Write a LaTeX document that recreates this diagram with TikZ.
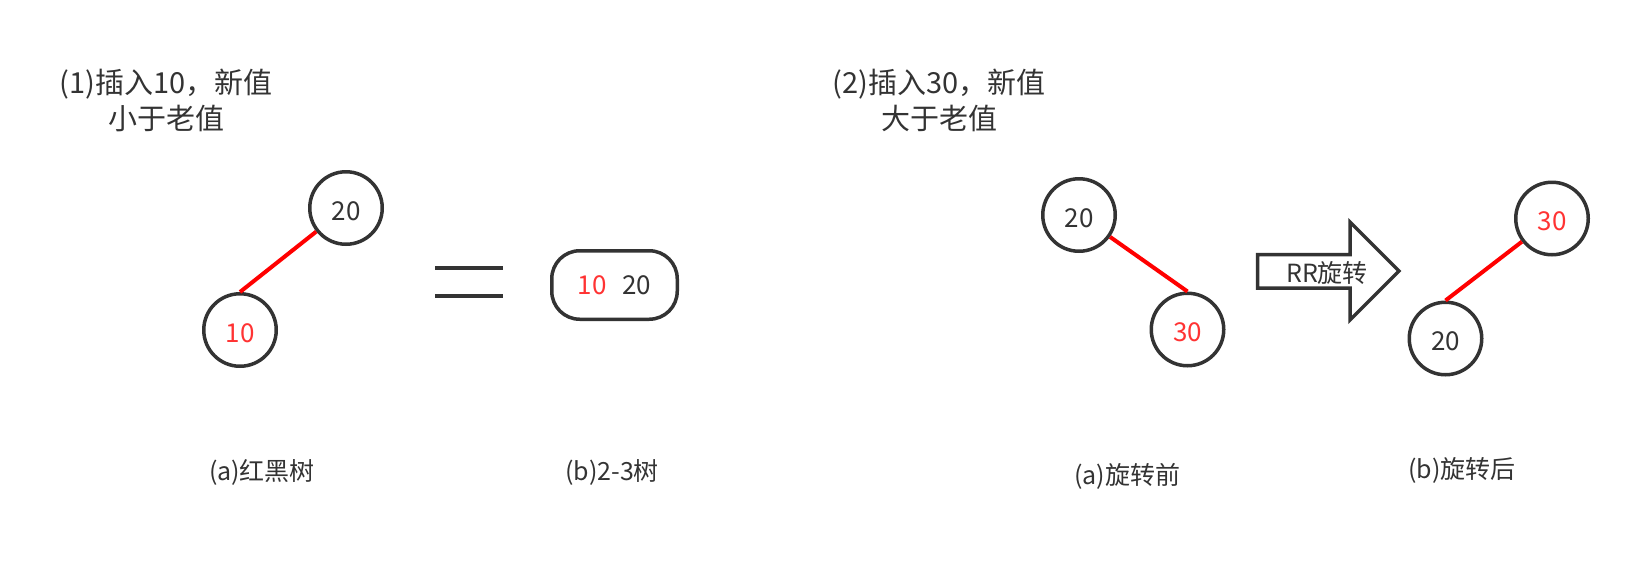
\documentclass[tikz,border=0pt]{standalone}
\usepackage{fontspec}
\setmainfont{Noto Sans CJK SC}
\definecolor{dk}{HTML}{333333}
\definecolor{rd}{HTML}{FF0000}
\definecolor{tr}{HTML}{FF3333}
\begin{document}
\begin{tikzpicture}[x=1pt,y=-1pt,
  nd/.style={circle,draw=dk,line width=3.5pt,minimum size=72.5pt,inner sep=0pt,font=\fontsize{26}{26}\selectfont,text=dk,text height=24pt,text depth=0pt},
  rnd/.style={nd,text=tr},
  edge/.style={draw=rd,line width=4pt},
  lbl/.style={font=\fontsize{25}{28}\selectfont,text=dk,inner sep=0pt},
  ttl/.style={font=\fontsize{29}{36}\selectfont,text=dk,align=center,inner sep=0pt}]
\useasboundingbox (0,0) rectangle (1638,565);
% titles
\node[ttl] (t1) at (166,100) {(1)插入10，新值\\小于老值};
\node[ttl] (t2) at (939,100) {(2)插入30，新值\\大于老值};
% left tree
\node[nd] (a20) at (346,208) {20};
\node[rnd] (a10) at (240,330) {10};
\draw[edge] (a20) -- (a10.north);
% equals
\draw[dk,line width=3.5pt] (435,268) -- (503,268);
\draw[dk,line width=3.5pt] (435,296) -- (503,296);
% 2-3 node
\node[draw=dk,line width=3.5pt,rounded corners=28pt,minimum width=125.5pt,minimum height=68.5pt,inner sep=0pt,font=\fontsize{26}{26}\selectfont,text=dk] (box) at (614.5,285) {\textcolor{tr}{10}\hspace{16pt}20};
% captions
\node[lbl] (c1) at (262,472) {(a)红黑树};
\node[lbl] (c2) at (612,472) {(b)2-3树};
\node[lbl] (c3) at (1127,476) {(a)旋转前};
\node[lbl] (c4) at (1462,470) {(b)旋转后};
% before rotation
\node[nd] (b20) at (1079,215) {20};
\node[rnd] (b30) at (1187.5,329.5) {30};
\draw[edge] (b20) -- (b30.north);
% arrow
\draw[dk,line width=3.5pt,line join=miter,miter limit=10] (1257.5,254.5) -- (1350,254.5) -- (1350,222) -- (1399,271) -- (1350,320) -- (1350,288) -- (1257.5,288) -- cycle;
\node[font=\fontsize{25}{25}\selectfont,text=dk,inner sep=0pt] (rr) at (1327,273) {RR旋转};
% after rotation
\node[rnd] (c30) at (1552,218.5) {30};
\node[nd] (c20) at (1445.5,338.5) {20};
\draw[edge] (c30) -- (c20.north);
\end{tikzpicture}
\end{document}
